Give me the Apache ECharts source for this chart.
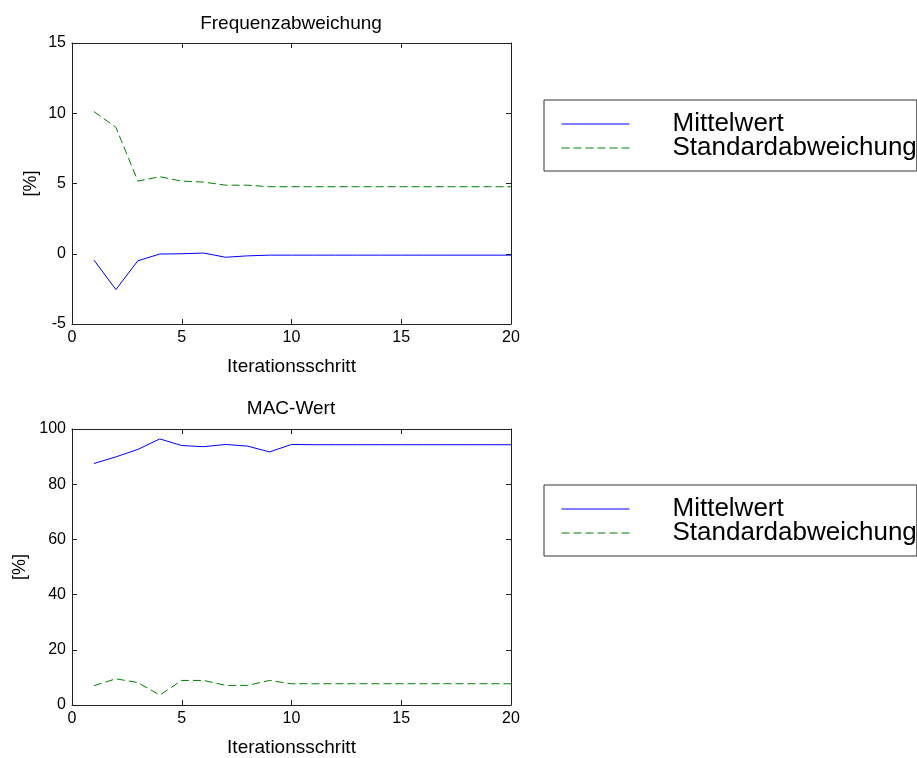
<!DOCTYPE html>
<html>
<head>
<meta charset="utf-8">
<script src="https://cdn.jsdelivr.net/npm/echarts@6/dist/echarts.min.js"></script>
<style>
html,body{margin:0;padding:0;background:#fff;}
#chart{width:917px;height:758px;}
</style>
</head>
<body>
<div id="chart"></div>
<script>
// ---- data ----
const iterations = [1, 2, 3, 4, 5, 6, 7, 8, 9, 10, 11, 12, 13, 14, 15, 16, 17, 18, 19, 20];
const freqMean = [-0.45, -2.55, -0.5, -0.02, 0, 0.05, -0.25, -0.15, -0.1, -0.1, -0.1, -0.1, -0.1, -0.1, -0.1, -0.1, -0.1, -0.1, -0.1, -0.1];
const freqStd = [10.12, 9.0, 5.17, 5.48, 5.17, 5.1, 4.88, 4.88, 4.77, 4.77, 4.77, 4.77, 4.77, 4.77, 4.77, 4.77, 4.77, 4.77, 4.77, 4.77];
const macMean = [87.5, 89.9, 92.6, 96.4, 94.0, 93.6, 94.4, 93.8, 91.7, 94.4, 94.3, 94.3, 94.3, 94.3, 94.3, 94.3, 94.3, 94.3, 94.3, 94.3];
const macStd = [7.0, 9.5, 8.1, 3.6, 8.9, 8.9, 7.1, 7.1, 8.9, 7.7, 7.7, 7.7, 7.7, 7.7, 7.7, 7.7, 7.7, 7.7, 7.7, 7.7];
const xTicks = [0, 5, 10, 15, 20];
const freqTicks = [-5, 0, 5, 10, 15];
const macTicks = [0, 20, 40, 60, 80, 100];
const seriesNames = ['Mittelwert', 'Standardabweichung'];
const titles = ['Frequenzabweichung', 'MAC-Wert'];
const xName = 'Iterationsschritt';
const yName = '[%]';

// ---- styling ----
const FONT = '"Liberation Sans", Arial, Helvetica, sans-serif';
const AXIS_COLOR = '#222';
const BLUE = '#0000ff';
const GREEN = '#008000';

function pairs(xs, ys) { return xs.map((x, i) => [x, ys[i]]); }
function step(t) { return t[1] - t[0]; }

function xAxisPair(gridIndex) {
  const base = {
    type: 'value', gridIndex: gridIndex,
    min: xTicks[0], max: xTicks[xTicks.length - 1], interval: step(xTicks),
    splitLine: { show: false },
    axisLine: { show: true, onZero: false, lineStyle: { color: AXIS_COLOR, width: 1 } },
    axisTick: { show: true, inside: true, length: 5, lineStyle: { color: AXIS_COLOR } }
  };
  return [
    Object.assign({}, base, {
      position: 'bottom',
      name: xName, nameLocation: 'middle', nameGap: 33,
      nameTextStyle: { fontFamily: FONT, fontSize: 19, color: '#000' },
      axisLabel: { show: true, margin: 6, fontFamily: FONT, fontSize: 16, color: '#000' }
    }),
    Object.assign({}, base, { position: 'top', axisLabel: { show: false } })
  ];
}

function yAxisPair(gridIndex, ticks, gap) {
  const base = {
    type: 'value', gridIndex: gridIndex,
    min: ticks[0], max: ticks[ticks.length - 1], interval: step(ticks),
    splitLine: { show: false },
    axisLine: { show: true, onZero: false, lineStyle: { color: AXIS_COLOR, width: 1 } },
    axisTick: { show: true, inside: true, length: 5, lineStyle: { color: AXIS_COLOR } }
  };
  return [
    Object.assign({}, base, {
      position: 'left',
      name: yName, nameLocation: 'middle', nameGap: gap,
      nameTextStyle: { fontFamily: FONT, fontSize: 18, color: '#000' },
      axisLabel: { show: true, margin: 6, fontFamily: FONT, fontSize: 16, color: '#000' }
    }),
    Object.assign({}, base, { position: 'right', axisLabel: { show: false } })
  ];
}

function lineSeries(name, xi, yi, data, color, dashed) {
  return {
    type: 'line', name: name, xAxisIndex: xi, yAxisIndex: yi,
    data: data, showSymbol: false, symbol: 'none', animation: false,
    lineStyle: { color: color, width: 1, type: dashed ? [8, 4] : 'solid' },
    itemStyle: { color: color },
    emphasis: { disabled: true }
  };
}

function legendAt(top) {
  return {
    orient: 'vertical', left: 544, top: top,
    data: seriesNames,
    padding: [11, 0, 10, 17],
    itemGap: -2, itemWidth: 68, itemHeight: 14,
    borderColor: '#333', borderWidth: 1, backgroundColor: '#fff',
    selectedMode: false,
    itemStyle: { opacity: 0, borderWidth: 0 },
    lineStyle: { width: 1 },
    textStyle: { fontFamily: FONT, fontSize: 26, lineHeight: 20, color: '#000', padding: [4, 0, 0, 38] }
  };
}

const chart = echarts.init(document.getElementById('chart'), null, { renderer: 'canvas' });
chart.setOption({
  animation: false,
  backgroundColor: '#fff',
  title: [
    { text: titles[0], left: 291, top: 14, textAlign: 'center', padding: 0,
      textStyle: { fontFamily: FONT, fontSize: 19, fontWeight: 'normal', color: '#000' } },
    { text: titles[1], left: 291, top: 399, textAlign: 'center', padding: 0,
      textStyle: { fontFamily: FONT, fontSize: 19, fontWeight: 'normal', color: '#000' } }
  ],
  grid: [
    { left: 72, top: 43, width: 439, height: 281, containLabel: false },
    { left: 72, top: 429, width: 439, height: 281, containLabel: false }
  ],
  xAxis: [].concat(xAxisPair(0), xAxisPair(1)),
  yAxis: [].concat(yAxisPair(0, freqTicks, 32), yAxisPair(1, macTicks, 43)),
  legend: [legendAt(100), legendAt(485)],
  series: [
    lineSeries(seriesNames[0], 0, 0, pairs(iterations, freqMean), BLUE, false),
    lineSeries(seriesNames[1], 0, 0, pairs(iterations, freqStd), GREEN, true),
    lineSeries(seriesNames[0], 2, 2, pairs(iterations, macMean), BLUE, false),
    lineSeries(seriesNames[1], 2, 2, pairs(iterations, macStd), GREEN, true)
  ]
});
</script>
</body>
</html>
